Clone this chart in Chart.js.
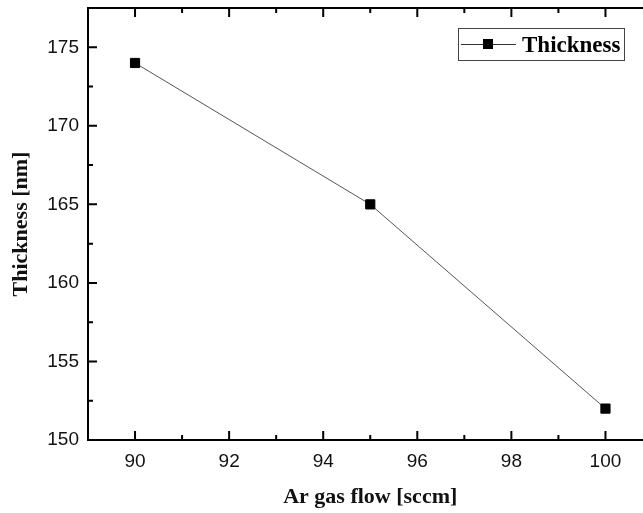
<!DOCTYPE html>
<html>
<head>
<meta charset="utf-8">
<script src="https://cdn.jsdelivr.net/npm/chart.js@4.4.0/dist/chart.umd.min.js"></script>
<style>
    html, body { margin: 0; padding: 0; background: #fff; overflow: hidden; }
    #wrap { width: 660px; height: 513px; }
</style>
</head>
<body>
<div id="wrap"><canvas id="thicknessChart" width="660" height="513"></canvas></div>
<script>
// Ar gas flow (sccm) vs film thickness (nm)
const gasFlow = [90, 95, 100];
const thickness = [174, 165, 152];
const xMajorTicks = [90, 92, 94, 96, 98, 100];
const yMajorTicks = [150, 155, 160, 165, 170, 175];
const seriesName = 'Thickness';

const serif = "'Liberation Serif', 'Times New Roman', serif";
const sans = "'Liberation Sans', Arial, sans-serif";

// frame on all four sides plus inward major/minor ticks
const framePlugin = {
    id: 'frame',
    afterDraw(chart) {
        const ctx = chart.ctx;
        const a = chart.chartArea;
        const xs = chart.scales.x, ys = chart.scales.y;
        ctx.save();
        ctx.strokeStyle = '#000';
        ctx.lineWidth = 2;
        ctx.strokeRect(a.left, a.top, a.right - a.left, a.bottom - a.top);

        ctx.beginPath();
        for (let v = Math.ceil(xs.min); v <= xs.max; v++) {
            const px = xs.getPixelForValue(v);
            const len = xMajorTicks.includes(v) ? 9 : 5;
            ctx.moveTo(px, a.bottom); ctx.lineTo(px, a.bottom - len);
            ctx.moveTo(px, a.top); ctx.lineTo(px, a.top + len);
        }
        for (let v = 150; v <= ys.max; v += 2.5) {
            const py = ys.getPixelForValue(v);
            const len = yMajorTicks.includes(v) ? 9 : 5;
            ctx.moveTo(a.left, py); ctx.lineTo(a.left + len, py);
            ctx.moveTo(a.right, py); ctx.lineTo(a.right - len, py);
        }
        ctx.stroke();

        // legend box in the upper right corner
        const bx = 458, by = 28, bw = 166, bh = 32;
        ctx.fillStyle = '#fff';
        ctx.fillRect(bx, by, bw, bh);
        ctx.lineWidth = 1;
        ctx.strokeStyle = '#444';
        ctx.strokeRect(bx + 0.5, by + 0.5, bw, bh);
        ctx.strokeStyle = '#333';
        ctx.beginPath();
        ctx.moveTo(461, 44.5); ctx.lineTo(516, 44.5);
        ctx.stroke();
        ctx.fillStyle = '#000';
        ctx.fillRect(483, 39, 10, 10);
        ctx.font = 'bold 23px ' + serif;
        ctx.textBaseline = 'alphabetic';
        ctx.fillText(seriesName, 522, 52);
        ctx.restore();
    }
};

const ctx = document.getElementById('thicknessChart').getContext('2d');
new Chart(ctx, {
    type: 'line',
    data: {
        datasets: [{
            label: seriesName,
            data: gasFlow.map((x, i) => ({ x: x, y: thickness[i] })),
            borderColor: '#555',
            borderWidth: 1,
            pointStyle: 'rect',
            pointRadius: 6.5,
            pointBackgroundColor: '#000',
            pointBorderColor: '#000',
            pointBorderWidth: 1,
            tension: 0
        }]
    },
    options: {
        responsive: false,
        devicePixelRatio: 1,
        animation: false,
        layout: { padding: { top: 8, right: 7, left: 0, bottom: 0 } },
        plugins: {
            legend: { display: false },
            tooltip: { enabled: false }
        },
        scales: {
            x: {
                type: 'linear',
                min: 89,
                max: 101,
                afterFit(scale) {
                    scale.height = 73;
                    scale.paddingLeft = 0;
                    scale.paddingRight = 0;
                },
                afterBuildTicks(scale) { scale.ticks = xMajorTicks.map(v => ({ value: v })); },
                grid: { display: false, drawTicks: false },
                border: { display: false },
                ticks: {
                    padding: 10,
                    color: '#111',
                    font: { family: sans, size: 19 }
                },
                title: {
                    display: true,
                    text: 'Ar gas flow [sccm]',
                    color: '#111',
                    font: { family: serif, size: 22, weight: 'bold' },
                    padding: { top: 0, bottom: 2 }
                }
            },
            y: {
                type: 'linear',
                min: 150,
                max: 177.5,
                afterFit(scale) {
                    scale.width = 88;
                    scale.paddingTop = 0;
                    scale.paddingBottom = 0;
                },
                afterBuildTicks(scale) { scale.ticks = yMajorTicks.map(v => ({ value: v })); },
                grid: { display: false, drawTicks: false },
                border: { display: false },
                ticks: {
                    padding: 9,
                    color: '#111',
                    font: { family: sans, size: 19 }
                },
                title: {
                    display: true,
                    text: 'Thickness [nm]',
                    color: '#111',
                    font: { family: serif, size: 22, weight: 'bold' },
                    padding: { top: 8, bottom: 0 }
                }
            }
        }
    },
    plugins: [framePlugin]
});
</script>
</body>
</html>
